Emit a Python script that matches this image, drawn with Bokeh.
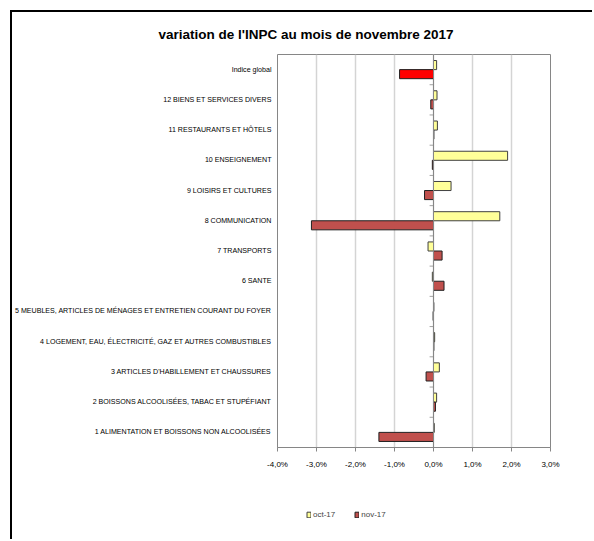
from bokeh.plotting import figure
from bokeh.layouts import column
from bokeh.models import (ColumnDataSource, FactorRange, FixedTicker, Span,
                          Legend, LegendItem, Range1d)
from bokeh.transform import dodge
from bokeh.embed import file_html
from bokeh.resources import INLINE

# ---- data (bottom to top) ----
categories = [
    "1 ALIMENTATION ET BOISSONS NON ALCOOLISÉES",
    "2 BOISSONS ALCOOLISÉES, TABAC ET STUPÉFIANT",
    "3 ARTICLES D'HABILLEMENT ET CHAUSSURES",
    "4 LOGEMENT, EAU, ÉLECTRICITÉ, GAZ ET AUTRES COMBUSTIBLES",
    "5 MEUBLES, ARTICLES DE MÉNAGES ET ENTRETIEN COURANT DU FOYER",
    "6 SANTE",
    "7 TRANSPORTS",
    "8 COMMUNICATION",
    "9 LOISIRS ET CULTURES",
    "10 ENSEIGNEMENT",
    "11 RESTAURANTS ET HÔTELS",
    "12 BIENS ET SERVICES DIVERS",
    "Indice global",
]
oct_17 = [0.02, 0.08, 0.15, 0.03, 0.01, -0.03, -0.14, 1.70, 0.45, 1.90, 0.10, 0.09, 0.08]
nov_17 = [-1.40, 0.05, -0.19, 0.01, -0.01, 0.27, 0.22, -3.13, -0.23, -0.03, 0.01, -0.07, -0.87]
series_names = ["oct-17", "nov-17"]
x_ticks = [-4, -3, -2, -1, 0, 1, 2, 3]
x_tick_labels = ["-4,0%", "-3,0%", "-2,0%", "-1,0%", "0,0%", "1,0%", "2,0%", "3,0%"]
title_text = "variation de l'INPC au mois de novembre 2017"

FONT = "'Liberation Sans Narrow', 'Liberation Sans', Arial, sans-serif"
OCT_FILL, OCT_LINE = "#FFFF99", "#404040"
NOV_FILL, NOV_LINE = "#C0504D", "#202020"

nov_colors = ["#FF0000" if c == "Indice global" else NOV_FILL for c in categories]

src = ColumnDataSource(dict(cat=categories, oct=oct_17, nov=nov_17, novc=nov_colors))

W, H = 580, 482
p = figure(width=W, height=H, y_range=FactorRange(*categories),
           x_range=Range1d(-4, 3), output_backend="svg", toolbar_location=None,
           min_border_left=263, min_border_right=42, min_border_top=42,
           min_border_bottom=47)
p.background_fill_color = "white"
p.border_fill_color = "white"
p.outline_line_color = "#868686"
p.outline_line_width = 1

# title
p.title.text = title_text
p.title.align = "left"
p.title.offset = -119
p.title.standoff = 25
p.title.text_font = FONT
p.title.text_font_size = "13.5px"
p.title.text_font_style = "bold"
p.title.text_color = "#000000"

# grid
p.xgrid.ticker = FixedTicker(ticks=x_ticks)
p.xgrid.grid_line_color = "#D4D4D4"
p.xgrid.grid_line_width = 1.5
p.ygrid.grid_line_color = None

# x axis
p.xaxis.ticker = FixedTicker(ticks=x_ticks)
p.xaxis.major_label_overrides = {t: l for t, l in zip(x_ticks, x_tick_labels)}
p.xaxis.axis_line_color = "#868686"
p.xaxis.major_tick_line_color = "#868686"
p.xaxis.major_tick_out = 4
p.xaxis.major_tick_in = 0
p.xaxis.minor_tick_line_color = None
p.xaxis.major_label_standoff = 8
p.xaxis.major_label_text_font = FONT
p.xaxis.major_label_text_font_size = "8px"
p.xaxis.major_label_text_color = "#000000"

# y axis (labels only)
p.yaxis.axis_line_color = None
p.yaxis.major_tick_line_color = None
p.yaxis.minor_tick_line_color = None
p.yaxis.major_tick_in = 0
p.yaxis.major_tick_out = 0
p.yaxis.major_label_standoff = 6
p.yaxis.major_label_text_font = FONT
p.yaxis.major_label_text_font_size = "7.1px"
p.yaxis.major_label_text_color = "#000000"

# zero axis line and its category ticks
p.add_layout(Span(location=0, dimension="height", line_color="#868686", line_width=1))
p.segment(x0=-0.1, x1=0, y0=dodge("cat", -0.5, range=p.y_range),
          y1=dodge("cat", -0.5, range=p.y_range), source=src,
          line_color="#A0A0A0", line_width=1)

p.hbar(y=dodge("cat", 0.15, range=p.y_range), left=0, right="oct", height=0.3,
       source=src, fill_color=OCT_FILL, line_color=OCT_LINE, line_width=1)
p.hbar(y=dodge("cat", -0.15, range=p.y_range), left=0, right="nov", height=0.3,
       source=src, fill_color="novc", line_color=NOV_LINE, line_width=1)

# legend strip below the chart (hidden renderers, only the key is shown)
lg = figure(width=W, height=45, x_range=Range1d(-4, 3),
            y_range=FactorRange(*categories),
            output_backend="svg", toolbar_location=None,
            min_border_left=263, min_border_right=42, min_border_top=0,
            min_border_bottom=0, x_axis_location=None, y_axis_location=None)
lg.outline_line_color = None
lg.grid.grid_line_color = None
lg.background_fill_alpha = 0
l_oct = lg.hbar(y="cat", left=0, right="oct", height=0.3, source=src,
                fill_color=OCT_FILL, line_color=OCT_LINE, visible=False)
l_nov = lg.hbar(y="cat", left=0, right="nov", height=0.3, source=src,
                fill_color=NOV_FILL, line_color=NOV_LINE, visible=False)
legend = Legend(items=[LegendItem(label=series_names[0], renderers=[l_oct], index=0),
                       LegendItem(label=series_names[1], renderers=[l_nov], index=0)],
                location=(29, 20), orientation="horizontal",
                glyph_width=5, glyph_height=7, label_height=10, label_standoff=2,
                spacing=19, padding=0, margin=0,
                label_text_font=FONT, label_text_font_size="8px",
                border_line_alpha=0, background_fill_alpha=0,
                inactive_fill_alpha=0)
lg.add_layout(legend)

root = column(p, lg, spacing=0)
root.styles = {"margin-left": "10px", "margin-top": "10px",
               "border-left": "2px solid #000000", "border-top": "2px solid #000000"}

open("out.html", "w").write(file_html(root, INLINE))
